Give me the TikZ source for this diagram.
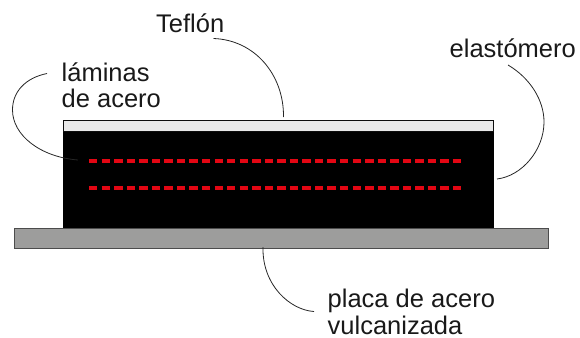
\documentclass[tikz,border=0pt]{standalone}
\usepackage{fontspec}
\setmainfont{Liberation Sans}
\definecolor{teflon}{HTML}{E9E9E9}
\definecolor{plate}{HTML}{9D9D9C}
\definecolor{steel}{HTML}{E30613}
\begin{document}
\begin{tikzpicture}[x=1pt,y=-1pt,
  lbl/.style={font=\fontsize{25.5}{26.5}\selectfont,text=black!90,inner sep=0pt,align=left},
  leader/.style={draw=black!85,line width=0.8pt},
  lamina/.style={draw=steel,line width=4.2pt,dash pattern=on 8.4pt off 4.15pt}]
\useasboundingbox (0,0) rectangle (580,337);
\node[lbl,anchor=base west] (ltef) at (156,33) {Teflón};
\node[lbl,anchor=base west] (lela) at (449.5,57) {elastómero};
\node[lbl,anchor=base west] (llam) at (61.5,107.5) {láminas\\de acero};
\node[lbl,anchor=base west] (lpla) at (327.5,334) {placa de acero\\vulcanizada};
\node[draw=black,fill=black,line width=0.5pt,inner sep=0pt,minimum width=429.5pt,minimum height=96pt,anchor=north west] (elast) at (63.2,131) {};
\node[draw=black!95,fill=teflon,line width=1pt,inner sep=0pt,minimum width=430pt,minimum height=11.5pt,anchor=north west] (tef) at (63,119.5) {};
\node[draw=black!70,fill=plate,line width=1.1pt,inner sep=0pt,minimum width=534pt,minimum height=19.5pt,anchor=north west] (plate) at (14,228) {};
\coordinate (a1) at (89,160.8);
\coordinate (a2) at (462,160.8);
\coordinate (b1) at (89,187.8);
\coordinate (b2) at (462,187.8);
\draw[lamina] (a1) -- (a2);
\draw[lamina] (b1) -- (b2);
\coordinate (t1) at (213.5,38.5);
\coordinate (t2) at (283.5,117);
\coordinate (l1) at (47,73.5);
\coordinate (l2) at (78,160);
\coordinate (e1) at (508,65);
\coordinate (e2) at (497,179);
\coordinate (p1) at (263,247);
\coordinate (p2) at (314,311.5);
\draw[leader] (t1) .. controls (255,40) and (284,75) .. (t2);
\draw[leader] (l1) .. controls (25,78) and (12.5,92) .. (12.5,110) .. controls (12.5,135) and (40,157) .. (l2);
\draw[leader] (e1) .. controls (530,78) and (544,100) .. (544,122) .. controls (544,150) and (522,176) .. (e2);
\draw[leader] (p1) .. controls (262,285) and (290,310) .. (p2);
\end{tikzpicture}
\end{document}
